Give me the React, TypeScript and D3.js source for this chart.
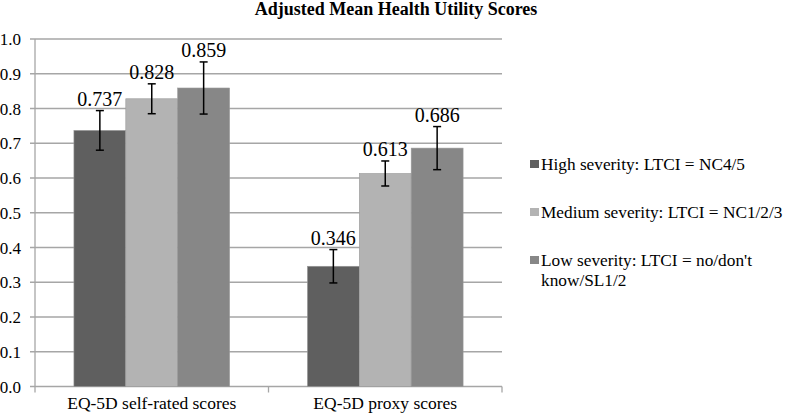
import React from "react";
import * as d3 from "d3";

const categories = ["EQ-5D self-rated scores", "EQ-5D proxy scores"];
const seriesNames = [
  "High severity: LTCI = NC4/5",
  "Medium severity: LTCI = NC1/2/3",
  "Low severity: LTCI = no/don't know/SL1/2",
];
const seriesColors = ["#5f5f5f", "#b3b3b3", "#878787"];
const highValues = [0.737, 0.346];
const mediumValues = [0.828, 0.613];
const lowValues = [0.859, 0.686];
const highErr = [0.057, 0.048];
const mediumErr = [0.043, 0.036];
const lowErr = [0.075, 0.062];
const yTicks = [0, 0.1, 0.2, 0.3, 0.4, 0.5, 0.6, 0.7, 0.8, 0.9, 1.0];
const legendLines = [
  ["High severity: LTCI = NC4/5"],
  ["Medium severity: LTCI = NC1/2/3"],
  ["Low severity: LTCI = no/don't", "know/SL1/2"],
];

const values = [highValues, mediumValues, lowValues];
const errs = [highErr, mediumErr, lowErr];

export default function App() {
  const W = 787, H = 417;
  const left = 35, right = 502, top = 39, bottom = 386.5;
  const x0 = d3.scaleBand<string>().domain(categories).range([left, right]).paddingInner(0).paddingOuter(0);
  const x1 = d3.scaleBand<number>().domain([0, 1, 2]).range([0, x0.bandwidth()]).paddingInner(0).paddingOuter(0.75);
  const y = d3.scaleLinear().domain([0, 1]).range([bottom, top]);
  const font = "'Liberation Serif', 'Times New Roman', serif";
  return (
    <svg width={W} height={H} style={{ position: "absolute", left: 0, top: 0 }} fontFamily={font}>
      <rect width={W} height={H} fill="#fff" />
      <text x={396} y={15} textAnchor="middle" fontWeight="bold" fontSize={18}>
        Adjusted Mean Health Utility Scores
      </text>
      {yTicks.map((t) => (
        <g key={t}>
          <line x1={left - 5} x2={right} y1={y(t)} y2={y(t)} stroke="#a6a6a6" strokeWidth={1.3} />
          <text x={21} y={y(t) + 6} textAnchor="end" fontSize={17}>
            {t.toFixed(1)}
          </text>
        </g>
      ))}
      <line x1={left} x2={left} y1={top} y2={bottom} stroke="#a6a6a6" strokeWidth={1.3} />
      {[left, left + x0.bandwidth(), right].map((xx, i) => (
        <line key={i} x1={xx} x2={xx} y1={bottom} y2={bottom + 6} stroke="#a6a6a6" strokeWidth={1.3} />
      ))}
      {categories.map((c, ci) => (
        <g key={c}>
          {values.map((vals, si) => {
            const bx = (x0(c) as number) + (x1(si) as number);
            const bw = x1.bandwidth();
            const v = vals[ci];
            const e = errs[si][ci];
            const cx = bx + bw / 2;
            return (
              <g key={si}>
                <rect x={bx} y={y(v)} width={bw} height={bottom - y(v)} fill={seriesColors[si]} stroke="#9a9a9a" strokeWidth={0.6} />
                <line x1={cx} x2={cx} y1={y(v + e)} y2={y(v - e)} stroke="#000" strokeWidth={1.5} />
                <line x1={cx - 4} x2={cx + 4} y1={y(v + e)} y2={y(v + e)} stroke="#000" strokeWidth={1.5} />
                <line x1={cx - 4} x2={cx + 4} y1={y(v - e)} y2={y(v - e)} stroke="#000" strokeWidth={1.5} />
                <text x={cx} y={y(v + e) - 5} textAnchor="middle" fontSize={20}>
                  {v.toFixed(3)}
                </text>
              </g>
            );
          })}
          <text x={(x0(c) as number) + x0.bandwidth() / 2} y={409} textAnchor="middle" fontSize={17.5}>
            {c}
          </text>
        </g>
      ))}
      {seriesNames.map((s, i) => {
        const ly = 164 + i * 48;
        return (
          <g key={s}>
            <rect x={530} y={ly - 4} width={9} height={8} fill={seriesColors[i]} />
            {legendLines[i].map((ln, li) => (
              <text key={li} x={541} y={ly + 6 + li * 20} fontSize={17.3}>
                {ln}
              </text>
            ))}
          </g>
        );
      })}
    </svg>
  );
}
